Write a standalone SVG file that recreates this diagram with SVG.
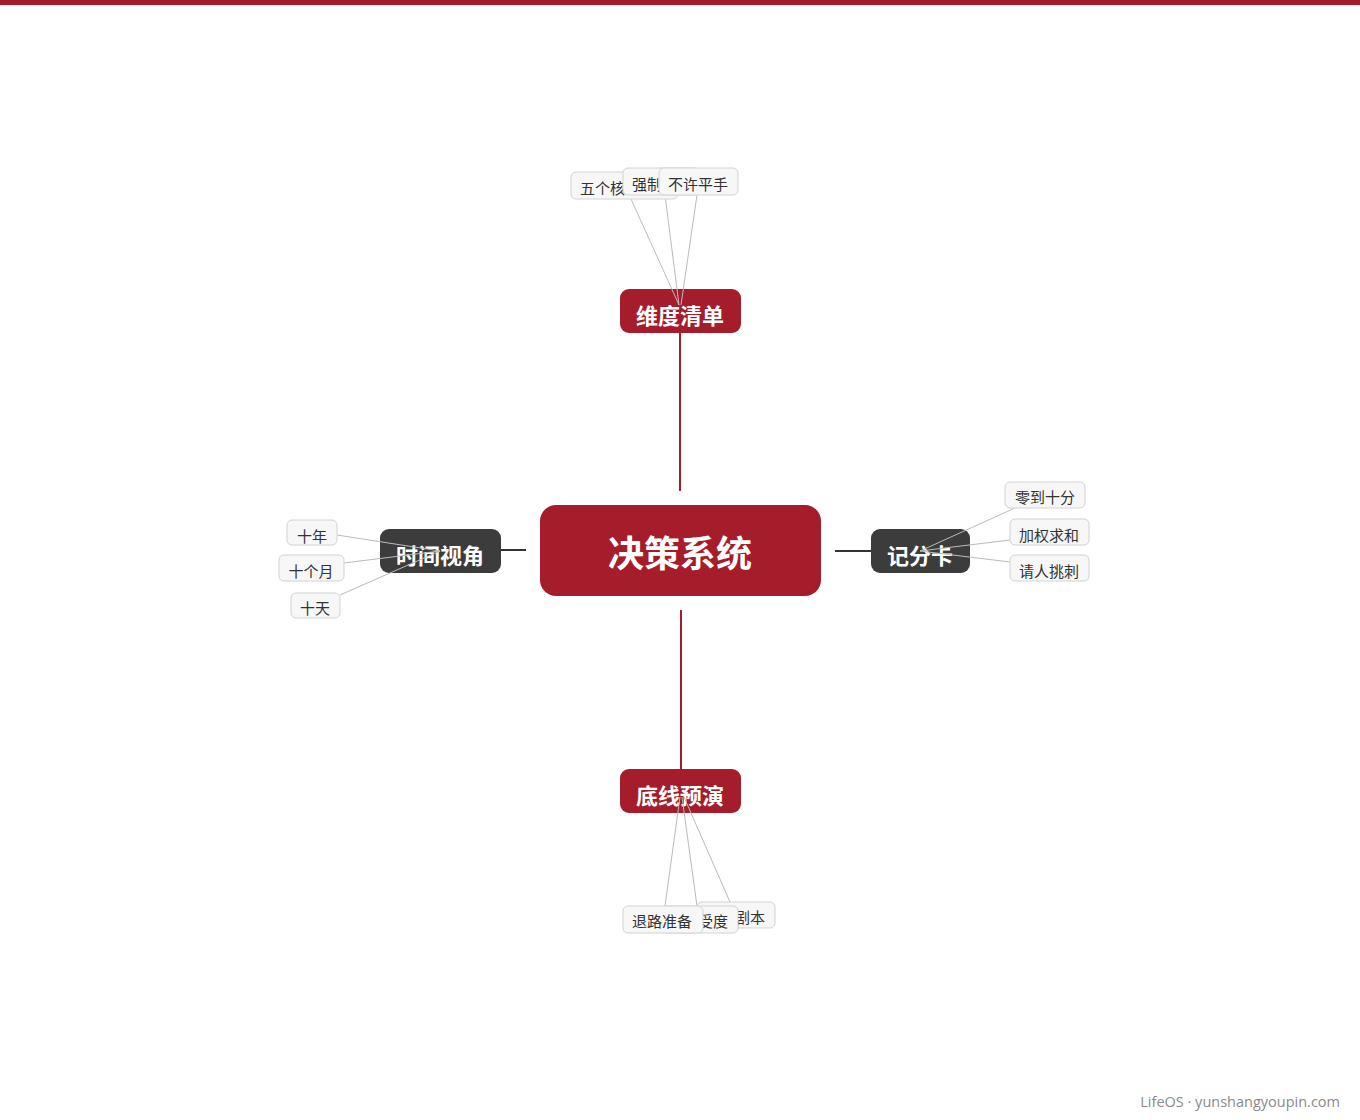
<svg xmlns="http://www.w3.org/2000/svg" width="1360" height="1120" viewBox="0 0 1360 1120">
<style>
.cjk{font-family:"Noto Sans CJK SC","Liberation Sans",sans-serif}
.main{fill:#A51C2B}
.dark{fill:#3C3C3C}
.mt{font-size:22px;font-weight:bold;fill:#fff;text-anchor:middle;dominant-baseline:central}
.ct{font-size:36px;font-weight:bold;fill:#fff;text-anchor:middle;dominant-baseline:central}
.leaf rect{fill:#F7F7F7;stroke:#D3D3D3;stroke-width:1}
.lt{font-size:15px;fill:#333;dominant-baseline:central}
.red{stroke:#A51C2B;stroke-width:2;fill:none}
.blk{stroke:#333;stroke-width:2;fill:none}
.thin{stroke:#BBBBBB;stroke-width:1;fill:none}
</style>
<rect x="0" y="0" width="1360" height="1120" fill="#fff"/>
<rect x="0" y="0" width="1360" height="5" fill="#A51C2B"/>
<g id="main-connectors">
<line class="red" x1="680" y1="333" x2="680" y2="491"/>
<line class="red" x1="681" y1="610" x2="681" y2="770"/>
<line class="blk" x1="500" y1="550" x2="526" y2="550"/>
<line class="blk" x1="835" y1="551" x2="872" y2="551"/>
</g>
<g id="center" class="cjk">
<rect class="main" x="540" y="505" width="281" height="91" rx="16"/>
<text class="ct" x="680" y="551">决策系统</text>
</g>
<g id="dim" class="cjk">
<rect class="main" x="620" y="289" width="121" height="44" rx="9"/>
<text class="mt" x="680" y="314">维度清单</text>
</g>
<g id="base" class="cjk">
<rect class="main" x="620" y="769" width="121" height="44" rx="9"/>
<text class="mt" x="680" y="794">底线预演</text>
</g>
<g id="time" class="cjk">
<rect class="dark" x="380" y="529" width="121" height="44" rx="9"/>
<text class="mt" x="440" y="554">时间视角</text>
</g>
<g id="score" class="cjk">
<rect class="dark" x="871" y="529" width="99" height="44" rx="9"/>
<text class="mt" x="920" y="554">记分卡</text>
</g>
<g id="leaf-connectors">
<line class="thin" x1="631" y1="199" x2="679" y2="305"/>
<line class="thin" x1="665" y1="195" x2="679" y2="305"/>
<line class="thin" x1="697" y1="195" x2="681" y2="305"/>
<line class="thin" x1="665" y1="906" x2="680" y2="797"/>
<line class="thin" x1="697" y1="906" x2="682" y2="797"/>
<line class="thin" x1="730" y1="902" x2="684" y2="797"/>
<line class="thin" x1="337" y1="535" x2="440" y2="551"/>
<line class="thin" x1="344" y1="563" x2="440" y2="551"/>
<line class="thin" x1="340" y1="595" x2="440" y2="551"/>
<line class="thin" x1="1015" y1="508" x2="920" y2="551"/>
<line class="thin" x1="1010" y1="540" x2="920" y2="551"/>
<line class="thin" x1="1010" y1="562" x2="920" y2="551"/>
</g>
<g id="leaf-wugehe" class="leaf cjk"><rect x="571" y="172" width="107" height="27" rx="5"/><text class="lt" x="580" y="187">五个核</text></g>
<g id="leaf-qiangzhi" class="leaf cjk"><rect x="623" y="168" width="76" height="27" rx="5"/><text class="lt" x="632" y="183">强制</text></g>
<g id="leaf-buxu" class="leaf cjk"><rect x="659" y="168" width="79" height="27" rx="5"/><text class="lt" x="668" y="183">不许平手</text></g>
<g id="leaf-juben" class="leaf cjk"><rect x="697" y="902" width="78" height="26" rx="5"/><text class="lt" x="765" y="916" text-anchor="end">剧本</text></g>
<g id="leaf-shoudu" class="leaf cjk"><rect x="662" y="906" width="76" height="27" rx="5"/><text class="lt" x="728" y="920" text-anchor="end">受度</text></g>
<g id="leaf-tuilu" class="leaf cjk"><rect x="623" y="906" width="80" height="27" rx="5"/><text class="lt" x="662" y="920" text-anchor="middle">退路准备</text></g>
<g id="leaf-shinian" class="leaf cjk"><rect x="287" y="520" width="50" height="25" rx="5"/><text class="lt" x="312" y="535" text-anchor="middle">十年</text></g>
<g id="leaf-shigeyue" class="leaf cjk"><rect x="279" y="555" width="65" height="26" rx="5"/><text class="lt" x="311" y="570" text-anchor="middle">十个月</text></g>
<g id="leaf-shitian" class="leaf cjk"><rect x="291" y="593" width="49" height="25" rx="5"/><text class="lt" x="315" y="607" text-anchor="middle">十天</text></g>
<g id="leaf-lingdao" class="leaf cjk"><rect x="1005" y="482" width="80" height="26" rx="5"/><text class="lt" x="1045" y="496" text-anchor="middle">零到十分</text></g>
<g id="leaf-jiaquan" class="leaf cjk"><rect x="1010" y="519" width="79" height="26" rx="5"/><text class="lt" x="1049" y="534" text-anchor="middle">加权求和</text></g>
<g id="leaf-qingren" class="leaf cjk"><rect x="1010" y="555" width="79" height="26" rx="5"/><text class="lt" x="1049" y="570" text-anchor="middle">请人挑刺</text></g>
<text x="1340" y="1107" text-anchor="end" font-family="'Open Sans','Liberation Sans',sans-serif" font-size="14.5" fill="#8A8A8A">LifeOS · yunshangyoupin.com</text>
</svg>
